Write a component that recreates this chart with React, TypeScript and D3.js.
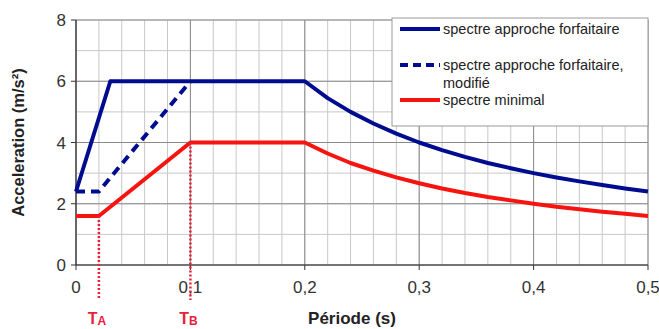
import React from 'react'
import * as d3 from 'd3'

// spectres de réponse (période en s, accélération en m/s²)
const periods = [0, 0.02, 0.03, 0.1, 0.2, 0.22, 0.24, 0.26, 0.28, 0.3, 0.32, 0.34, 0.36, 0.38, 0.4, 0.42, 0.44, 0.46, 0.48, 0.5]
const forfaitaire = [2.4, null, 6, 6, 6, 5.45, 5.0, 4.62, 4.29, 4.0, 3.75, 3.53, 3.33, 3.16, 3.0, 2.86, 2.73, 2.61, 2.5, 2.4]
const modifie = [2.4, 2.4, null, 6, null, null, null, null, null, null, null, null, null, null, null, null, null, null, null, null]
const minimal = [1.6, 1.6, null, 4, 4, 3.64, 3.33, 3.08, 2.86, 2.67, 2.5, 2.35, 2.22, 2.11, 2.0, 1.9, 1.82, 1.74, 1.67, 1.6]

const xTicks = [0, 0.1, 0.2, 0.3, 0.4, 0.5]
const xTickLabels = ['0', '0,1', '0,2', '0,3', '0,4', '0,5']
const yTicks = [0, 2, 4, 6, 8]
const marks = [
  { name: 'A', t: 0.02, a: 1.6 },
  { name: 'B', t: 0.1, a: 4 },
]
const legendItems = [
  { label: ['spectre approche forfaitaire'], color: '#000c8f', dash: '' },
  { label: ['spectre approche forfaitaire,', 'modifié'], color: '#000c8f', dash: '8,5' },
  { label: ['spectre minimal'], color: '#f5140f', dash: '' },
]

const W = 659
const H = 329

export default function App() {
  const x = d3.scaleLinear().domain([0, 0.5]).range([76, 648])
  const y = d3.scaleLinear().domain([0, 8]).range([265, 20])

  const toPts = (vals: (number | null)[]) =>
    periods.map((t, i) => [t, vals[i]] as [number, number | null]).filter((d) => d[1] != null) as [number, number][]

  const line = d3.line<[number, number]>().x((d) => x(d[0])).y((d) => y(d[1]))

  const minorX = d3.range(0, 0.5001, 0.02)
  const minorY = d3.range(0, 8.001, 1)
  const font = 'Arial, "Liberation Sans", sans-serif'

  return (
    <svg width={W} height={H} style={{ position: 'absolute', left: 0, top: 0, background: '#fff' }} fontFamily={font}>
      {/* grille */}
      {minorX.map((v) => (
        <line key={'gx' + v} x1={x(v)} x2={x(v)} y1={y(0)} y2={y(8)} stroke="#c8c8c8" strokeWidth={1} />
      ))}
      {minorY.map((v) => (
        <line key={'gy' + v} x1={x(0)} x2={x(0.5)} y1={y(v)} y2={y(v)} stroke="#c8c8c8" strokeWidth={1} />
      ))}
      {xTicks.map((v) => (
        <line key={'Gx' + v} x1={x(v)} x2={x(v)} y1={y(0)} y2={y(8)} stroke="#8a8a8a" strokeWidth={1} />
      ))}
      {yTicks.map((v) => (
        <line key={'Gy' + v} x1={x(0)} x2={x(0.5)} y1={y(v)} y2={y(v)} stroke="#8a8a8a" strokeWidth={1} />
      ))}

      {/* axes */}
      <line x1={x(0)} x2={x(0)} y1={y(0)} y2={y(8)} stroke="#333" strokeWidth={1.2} />
      <line x1={x(0)} x2={x(0.5)} y1={y(0)} y2={y(0)} stroke="#333" strokeWidth={1.2} />
      {yTicks.map((v) => (
        <g key={'yt' + v}>
          <line x1={x(0) - 5} x2={x(0)} y1={y(v)} y2={y(v)} stroke="#333" />
          <text x={x(0) - 10} y={y(v)} dy="0.36em" textAnchor="end" fontSize={17} fill="#333">{v}</text>
        </g>
      ))}
      {xTicks.map((v, i) => (
        <g key={'xt' + v}>
          <line x1={x(v)} x2={x(v)} y1={y(0)} y2={y(0) + 5} stroke="#333" />
          <text x={x(v)} y={y(0) + 28} textAnchor="middle" fontSize={17} fill="#333">{xTickLabels[i]}</text>
        </g>
      ))}

      {/* courbes */}
      <path d={line(toPts(minimal)) || ''} fill="none" stroke="#f5140f" strokeWidth={4} strokeLinejoin="round" />
      <path d={line(toPts(forfaitaire)) || ''} fill="none" stroke="#000c8f" strokeWidth={4} strokeLinejoin="round" />
      <path d={line(toPts(modifie)) || ''} fill="none" stroke="#000c8f" strokeWidth={4} strokeDasharray="9,6" />

      {/* TA / TB */}
      {marks.map((m) => (
        <g key={m.name}>
          <line x1={x(m.t)} x2={x(m.t)} y1={y(m.a)} y2={300} stroke="#e8203a" strokeWidth={2.5} strokeDasharray="2,2" />
          <text x={x(m.t) - 2} y={324} textAnchor="middle" fontSize={16} fontWeight="bold" fill="#e8203a">
            T<tspan fontSize={12} dy={1}>{m.name}</tspan>
          </text>
        </g>
      ))}

      {/* titres */}
      <text transform={`translate(24,${y(4)}) rotate(-90)`} textAnchor="middle" fontSize={16.5} fontWeight="bold" fill="#222">
        Acceleration (m/s²)
      </text>
      <text x={352} y={324} textAnchor="middle" fontSize={17} fontWeight="bold" fill="#222">Période (s)</text>

      {/* légende */}
      <rect x={392} y={18} width={256} height={108} fill="#fff" stroke="#999" />
      {legendItems.map((d, i) => {
        const ly = [29, 65, 100][i]
        return (
          <g key={'lg' + i}>
            <line x1={400} x2={440} y1={ly} y2={ly} stroke={d.color} strokeWidth={4} strokeDasharray={d.dash || undefined} />
            {d.label.map((s, j) => (
              <text key={j} x={443} y={ly + j * 18} dy="0.35em" fontSize={14.5} fill="#222">{s}</text>
            ))}
          </g>
        )
      })}
    </svg>
  )
}
